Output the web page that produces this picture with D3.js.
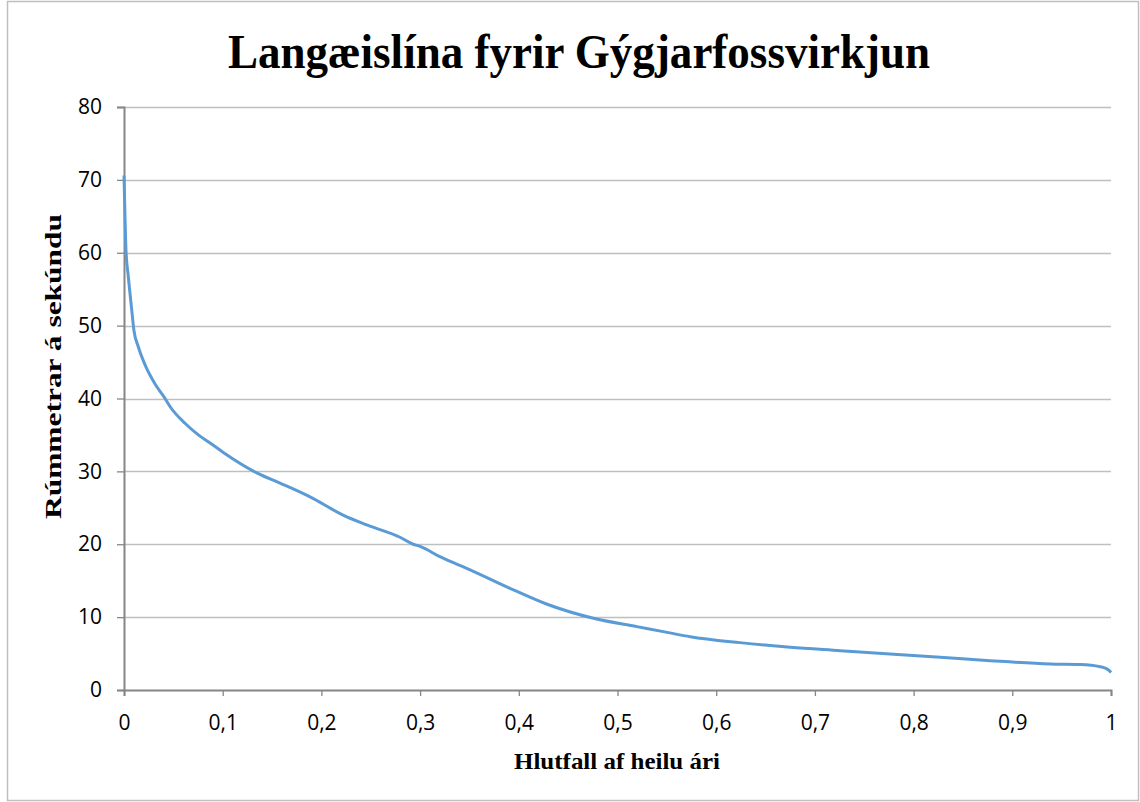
<!DOCTYPE html>
<html>
<head>
<meta charset="utf-8">
<script src="https://cdn.jsdelivr.net/npm/d3@7"></script>
<style>
	body { margin: 0; background: #fff; }
	svg { display: block; }
</style>
</head>
<body>
<svg id="chart" width="1140" height="802"></svg>
<script>
// duration curve: fraction of year vs. flow (m3/s)
const fraction = [0, 0.001, 0.002, 0.0044, 0.0078, 0.010, 0.0145, 0.022, 0.031, 0.0416, 0.0466, 0.0618, 0.0753,
	0.0872, 0.1006, 0.1345, 0.158, 0.1885, 0.222, 0.246, 0.2797, 0.293, 0.3, 0.32, 0.3507, 0.391, 0.428,
	0.4756, 0.5196, 0.5517, 0.5736, 0.624, 0.675, 0.7257, 0.776, 0.827, 0.8777, 0.9385, 0.969, 0.989, 0.9976, 1];
const flow = [70.6, 65, 60.4, 56.7, 52.2, 49.4, 47.1, 44.4, 42.1, 40.0, 38.9, 36.6, 35.0,
	33.9, 32.6, 29.8, 28.4, 26.5, 24.0, 22.65, 20.96, 20.0, 19.7, 18.3, 16.5, 13.96, 11.8,
	9.84, 8.7, 7.87, 7.32, 6.5, 5.86, 5.4, 4.94, 4.5, 4.02, 3.57, 3.5, 3.2, 2.75, 2.4];
const xTicks = [0, 0.1, 0.2, 0.3, 0.4, 0.5, 0.6, 0.7, 0.8, 0.9, 1];
const yTicks = [0, 10, 20, 30, 40, 50, 60, 70, 80];

const svg = d3.select("#chart");
const margin = { top: 107, left: 124, right: 1140 - 1111, bottom: 802 - 690 };
const width = 1140, height = 802;
const tickFont = "'Open Sans', 'Noto Sans', sans-serif";
const serif = "'Liberation Serif', 'Times New Roman', serif";

const x = d3.scaleLinear().domain([0, 1]).range([margin.left, width - margin.right]);
const y = d3.scaleLinear().domain([0, 80]).range([height - margin.bottom, margin.top]);

// outer frame
svg.append("rect")
	.attr("x", 7.5).attr("y", 1.5)
	.attr("width", 1131).attr("height", 799)
	.attr("fill", "none").attr("stroke", "#bfbfbf").attr("stroke-width", 1.5);

// title
svg.append("text")
	.attr("x", 228).attr("y", 68)
	.attr("textLength", 702).attr("lengthAdjust", "spacingAndGlyphs")
	.style("font", `bold 48px ${serif}`)
	.text("Langæislína fyrir Gýgjarfossvirkjun");

// horizontal grid
svg.append("g")
	.selectAll("line")
	.data(yTicks.filter((d) => d > 0))
	.enter()
	.append("line")
	.attr("x1", x(0)).attr("x2", x(1))
	.attr("y1", (d) => Math.round(y(d)) + 0.5)
	.attr("y2", (d) => Math.round(y(d)) + 0.5)
	.attr("stroke", "#bfbfbf").attr("stroke-width", 1.3);

// y axis
const yAxis = svg.append("g")
	.attr("transform", `translate(${x(0)},0)`)
	.call(d3.axisLeft(y).tickValues(yTicks).tickSize(7).tickPadding(15).tickFormat(d3.format("d")))
	.attr("font-size", 21).attr("font-family", tickFont);
yAxis.select(".domain").attr("stroke", "#868686").attr("stroke-width", 2);
yAxis.selectAll(".tick line").attr("stroke", "#868686").attr("stroke-width", 1.3);
yAxis.selectAll(".tick text").attr("fill", "#000");

// x axis
const fmt = (d) => String(d).replace(".", ",");
const xAxis = svg.append("g")
	.attr("transform", `translate(0,${y(0)})`)
	.call(d3.axisBottom(x).tickValues(xTicks).tickSize(6).tickPadding(19).tickFormat(fmt))
	.attr("font-size", 21).attr("font-family", tickFont);
xAxis.select(".domain").attr("stroke", "#868686").attr("stroke-width", 2);
xAxis.selectAll(".tick line").attr("stroke", "#868686").attr("stroke-width", 1.3);
xAxis.selectAll(".tick text").attr("fill", "#000");

// axis titles
svg.append("text")
	.attr("x", 514).attr("y", 769)
	.attr("textLength", 206).attr("lengthAdjust", "spacingAndGlyphs")
	.style("font", `bold 24px ${serif}`)
	.text("Hlutfall af heilu ári");

svg.append("text")
	.attr("transform", "translate(61,519) rotate(-90)")
	.attr("textLength", 305).attr("lengthAdjust", "spacingAndGlyphs")
	.style("font", `bold 23px ${serif}`)
	.text("Rúmmetrar á sekúndu");

// the curve
const pts = fraction.map((f, i) => [f, flow[i]]);
svg.append("path")
	.datum(pts)
	.attr("fill", "none")
	.attr("stroke", "#5b9bd5")
	.attr("stroke-width", 3)
	.attr("stroke-linejoin", "round")
	.attr("d", d3.line().x((d) => x(d[0])).y((d) => y(d[1])).curve(d3.curveMonotoneX));
</script>
</body>
</html>
